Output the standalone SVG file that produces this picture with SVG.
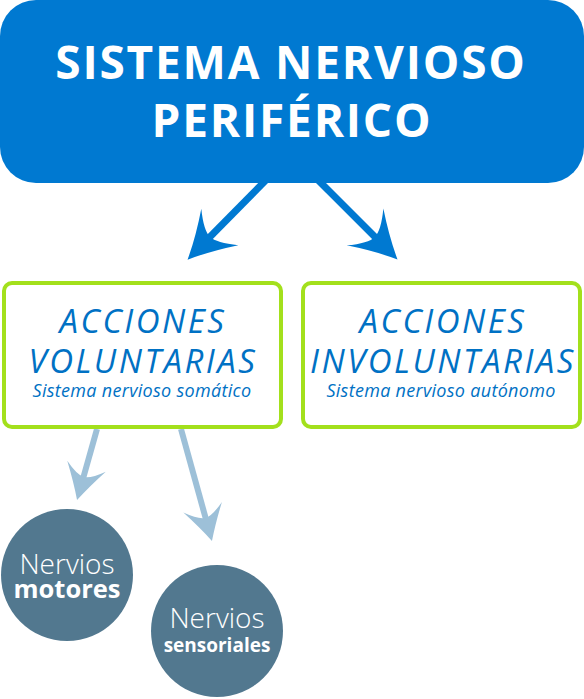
<svg xmlns="http://www.w3.org/2000/svg" width="584" height="699" viewBox="0 0 584 699">
<style>
.title{font-family:"Open Sans","Noto Sans",sans-serif;font-weight:700;font-size:46px;letter-spacing:1.8px;fill:#ffffff;text-anchor:middle}
.act{font-family:"Open Sans","Noto Sans",sans-serif;font-style:italic;font-weight:400;font-size:33px;letter-spacing:2.5px;fill:#0071C4;text-anchor:middle}
.sub{font-family:"Open Sans","Noto Sans",sans-serif;font-style:italic;font-size:18px;letter-spacing:0.3px;fill:#0071C4;text-anchor:middle}
.nl{font-family:"Open Sans","Noto Sans",sans-serif;font-weight:300;fill:#ffffff;text-anchor:middle}
.nb{font-family:"Open Sans","Noto Sans",sans-serif;font-weight:700;fill:#ffffff;text-anchor:middle}
.gbox{fill:#ffffff;stroke:#A3E01C;stroke-width:4}
.circ{fill:#52788F}
.blue{stroke:#0079D1;stroke-width:7;fill:none}
.light{stroke:#9DC0D8;stroke-width:6;fill:none}
</style>
<defs>
<marker id="mb" viewBox="-50 -30 60 60" refX="-30" refY="0" markerWidth="60" markerHeight="60" markerUnits="userSpaceOnUse" orient="auto">
<path d="M0,0 Q-22,-10 -46,-26 Q-32,-9 -32,0 Q-32,9 -46,26 Q-22,10 0,0 Z" fill="#0079D1"/>
</marker>
<marker id="ml" viewBox="-40 -25 50 50" refX="-22" refY="0" markerWidth="50" markerHeight="50" markerUnits="userSpaceOnUse" orient="auto">
<path d="M0,0 Q-16,-8 -35,-20 Q-24,-7 -24,0 Q-24,7 -35,20 Q-16,8 0,0 Z" fill="#9DC0D8"/>
</marker>
</defs>
<g id="connectors">
<line class="blue" x1="266" y1="180" x2="208.6" y2="238.3" marker-end="url(#mb)"/>
<line class="blue" x1="318" y1="180" x2="376.3" y2="238.3" marker-end="url(#mb)"/>
<line class="light" x1="97" y1="429" x2="83" y2="478.8" marker-end="url(#ml)"/>
<line class="light" x1="181" y1="429" x2="206.1" y2="519.8" marker-end="url(#ml)"/>
</g>
<g id="sistema">
<rect x="0" y="0" width="584" height="183" rx="36" fill="#0079D1"/>
<text class="title" x="291" y="79">SISTEMA NERVIOSO</text>
<text class="title" x="292" y="137">PERIFÉRICO</text>
</g>
<g id="voluntarias">
<rect class="gbox" x="4" y="283" width="277" height="144" rx="8"/>
<text class="act" x="143" y="333">ACCIONES</text>
<text class="act" x="143" y="373">VOLUNTARIAS</text>
<text class="sub" x="142" y="397">Sistema nervioso somático</text>
</g>
<g id="involuntarias">
<rect class="gbox" x="303" y="283" width="277" height="144" rx="8"/>
<text class="act" x="443" y="333">ACCIONES</text>
<text class="act" x="443" y="373">INVOLUNTARIAS</text>
<text class="sub" x="441" y="397">Sistema nervioso autónomo</text>
</g>
<g id="motores">
<circle class="circ" cx="67" cy="575" r="66"/>
<text class="nl" x="67" y="574" font-size="28">Nervios</text>
<text class="nb" x="67" y="598" font-size="25.5">motores</text>
</g>
<g id="sensoriales">
<circle class="circ" cx="217" cy="631" r="66"/>
<text class="nl" x="217" y="628" font-size="28">Nervios</text>
<text class="nb" x="217" y="652" font-size="19">sensoriales</text>
</g>
</svg>
